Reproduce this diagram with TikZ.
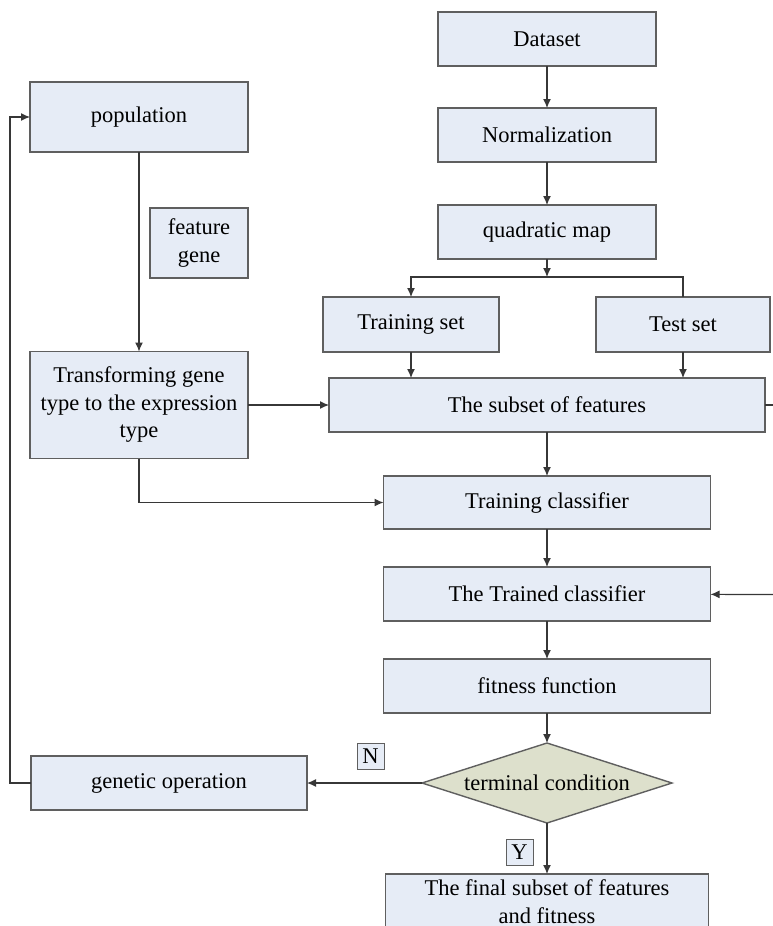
\documentclass[tikz,border=0pt]{standalone}
\usepackage{fontspec}
\setmainfont{Liberation Serif}
\usetikzlibrary{positioning,shapes.geometric,arrows.meta}
\definecolor{boxfill}{RGB}{230,236,246}
\definecolor{boxline}{RGB}{95,95,95}
\definecolor{condfill}{RGB}{221,224,204}
\definecolor{wire}{RGB}{55,55,55}
\tikzset{
  blk/.style={draw=boxline, fill=boxfill, line width=1.4pt, inner sep=0pt, outer sep=0pt,
    align=center, font=\fontsize{22.5}{27.5}\selectfont},
  cond/.style={blk, shape=diamond, fill=condfill, aspect=3.125,
    minimum width=250pt, minimum height=80pt},
  lbl/.style={blk, line width=1pt, minimum width=27pt, minimum height=26pt},
  wr/.style={draw=wire, line width=1.2pt},
  arr/.style={wr, -{Latex[length=9pt,width=8pt]}}
}
\begin{document}
\begin{tikzpicture}[x=1pt, y=-1pt]
  \useasboundingbox (0,0) rectangle (773,926);
  \node[blk, minimum width=218pt, minimum height=54pt] (data) at (547,39) {Dataset};
  \node[blk, minimum width=218pt, minimum height=54pt, below=42pt of data] (norm) {Normalization};
  \node[blk, minimum width=218pt, minimum height=54pt, below=43pt of norm] (quad) {quadratic map};
  \node[blk, minimum width=176pt, minimum height=55pt] (trset) at (411,324.5) {Training set};
  \node[blk, minimum width=174pt, minimum height=55pt] (teset) at (683,324.5) {Test set};
  \node[blk, minimum width=436pt, minimum height=54pt] (subset) at (547,405) {The subset of features};
  \node[blk, minimum width=327pt, minimum height=53pt, below=44pt of subset] (trcls) {Training classifier};
  \node[blk, minimum width=327pt, minimum height=54pt, below=38pt of trcls] (trd) {The Trained classifier};
  \node[blk, minimum width=327pt, minimum height=54pt, below=38pt of trd] (fit) {fitness function};
  \node[cond, below=30pt of fit] (term) {terminal condition};
  \node[blk, minimum width=323pt, minimum height=55pt, below=51pt of term] (final) {The final subset of features\\and fitness};
  \node[blk, minimum width=218pt, minimum height=70pt] (pop) at (139,117) {population};
  \node[blk, minimum width=98pt, minimum height=70pt] (fgene) at (199,243) {feature\\gene};
  \node[blk, minimum width=218pt, minimum height=107pt] (trans) at (139,405) {Transforming gene\\type to the expression\\type};
  \node[blk, minimum width=276pt, minimum height=54pt] (genop) at (169,783) {genetic operation};
  \node[lbl] (nlab) at (370.5,756) {N};
  \node[lbl] (ylab) at (519.5,852) {Y};
  \coordinate (split) at (547,277);
  \coordinate (loopc) at (10,117);
  \coordinate (rtop) at (773,405);
  \coordinate (rbot) at (773,594.5);
  \draw[arr] (data) -- (norm);
  \draw[arr] (norm) -- (quad);
  \draw[arr] (quad) -- (split);
  \draw[arr] (split) -| (trset);
  \draw[wr] (split) -| (teset);
  \draw[arr] (trset.south) -- (trset.south |- subset.north);
  \draw[arr] (teset.south) -- (teset.south |- subset.north);
  \draw[wr] (subset) -- (rtop);
  \draw[arr] (rbot) -- (trd);
  \draw[arr] (subset) -- (trcls);
  \draw[arr] (trcls) -- (trd);
  \draw[arr] (trd) -- (fit);
  \draw[arr] (fit) -- (term);
  \draw[arr] (term) -- (final);
  \draw[arr] (term) -- (genop);
  \draw[arr] (genop.west) -| (loopc) -- (pop.west);
  \draw[arr] (pop) -- (trans);
  \draw[arr] (trans) -- (subset);
  \draw[arr] (trans.south) |- (trcls.west);
\end{tikzpicture}
\end{document}
